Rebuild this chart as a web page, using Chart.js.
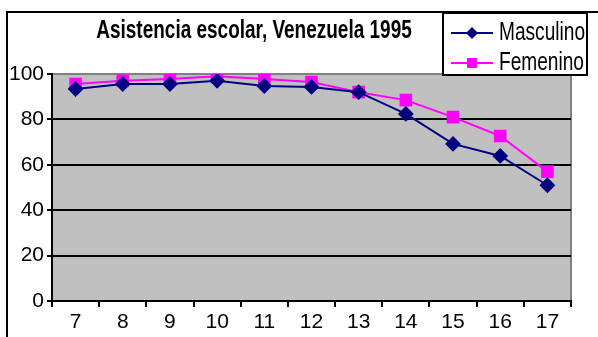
<!DOCTYPE html>
<html><head><meta charset="utf-8">
<script src="https://cdn.jsdelivr.net/npm/chart.js@4/dist/chart.umd.min.js"></script>
<style>html,body{margin:0;padding:0;background:#fff;}#wrap{width:598px;height:337px;position:relative;}</style>
</head><body><div id="wrap"><canvas id="c" width="598" height="337"></canvas></div>
<script>
const categories = ['7','8','9','10','11','12','13','14','15','16','17'];
const masculino = [93.4, 95.6, 95.6, 97.0, 94.7, 94.3, 92.0, 82.4, 69.2, 63.9, 51.0];
const femenino = [95.6, 97.0, 97.8, 99.0, 97.8, 96.5, 92.0, 88.5, 81.0, 72.7, 57.0];
const seriesNames = ['Masculino', 'Femenino'];
const titleText = 'Asistencia escolar, Venezuela 1995';
const FONT = "'Liberation Sans', Arial, sans-serif";

function narrowText(ctx, text, x, y, sx) {
  ctx.save();
  ctx.translate(x, y);
  ctx.scale(sx, 1);
  ctx.fillText(text, 0, 0);
  ctx.restore();
}

const deco = {
  id: 'deco',
  beforeDraw(chart) {
    const {ctx, chartArea: a} = chart;
    ctx.save();
    ctx.fillStyle = '#c0c0c0';
    ctx.fillRect(a.left, a.top, a.right - a.left, a.bottom - a.top);
    ctx.strokeStyle = '#808080';
    ctx.lineWidth = 2;
    ctx.beginPath();
    ctx.moveTo(a.left, a.top); ctx.lineTo(a.right, a.top); ctx.lineTo(a.right, a.bottom);
    ctx.stroke();
    ctx.strokeStyle = '#000';
    ctx.lineWidth = 2;
    ctx.strokeRect(7, 12, 700, 400);
    ctx.restore();
  },
  afterDraw(chart) {
    const ctx = chart.ctx;
    ctx.save();
    ctx.fillStyle = '#000';
    ctx.font = "bold 26px " + FONT;
    ctx.textAlign = 'center';
    ctx.textBaseline = 'middle';
    narrowText(ctx, titleText, 254, 31, 0.73);
    const lx = 443, ly = 13, lw = 144, lh = 62;
    ctx.fillStyle = '#fff';
    ctx.fillRect(lx, ly, lw, lh);
    ctx.strokeStyle = '#000';
    ctx.lineWidth = 2;
    ctx.strokeRect(lx, ly, lw, lh);
    const ds = chart.data.datasets;
    ds.forEach((d, i) => {
      const y = 33 + i * 30;
      ctx.strokeStyle = d.borderColor;
      ctx.lineWidth = 2;
      ctx.beginPath(); ctx.moveTo(451, y); ctx.lineTo(493, y); ctx.stroke();
      ctx.fillStyle = d.borderColor;
      if (d.pointStyle === 'rectRot') {
        ctx.beginPath(); ctx.moveTo(472, y - 6); ctx.lineTo(478, y); ctx.lineTo(472, y + 6); ctx.lineTo(466, y); ctx.closePath(); ctx.fill();
      } else {
        ctx.fillRect(467, y - 5, 10, 10);
      }
      ctx.fillStyle = '#000';
      ctx.font = "26px " + FONT;
      ctx.textAlign = 'left';
      ctx.textBaseline = 'middle';
      narrowText(ctx, d.label, 499, y, 0.735);
    });
    ctx.restore();
  }
};

new Chart(document.getElementById('c'), {
  type: 'line',
  data: {
    labels: categories,
    datasets: [
      {label: seriesNames[0], data: masculino, borderColor: '#000080', backgroundColor: '#000080', borderWidth: 2, pointStyle: 'rectRot', pointRadius: 6.5, pointHoverRadius: 6.5, tension: 0},
      {label: seriesNames[1], data: femenino, borderColor: '#ff00ff', backgroundColor: '#ff00ff', borderWidth: 2, pointStyle: 'rect', pointRadius: 7.5, pointHoverRadius: 7.5, tension: 0}
    ]
  },
  options: {
    responsive: false,
    animation: false,
    events: [],
    layout: {padding: {left: 0, top: 74, right: 27, bottom: 0}},
    plugins: {legend: {display: false}, title: {display: false}, tooltip: {enabled: false}},
    scales: {
      x: {
        offset: true,
        afterFit(s) { s.height = 36; },
        grid: {offset: true, drawOnChartArea: false, drawTicks: true, tickLength: 6, color: '#000', lineWidth: 2},
        border: {color: '#000', width: 2},
        ticks: {color: '#000', font: {family: FONT, size: 21}, padding: 3, maxRotation: 0}
      },
      y: {
        min: 0, max: 100,
        afterFit(s) { s.width = 52; },
        ticks: {stepSize: 20, color: '#000', font: {family: FONT, size: 21}, padding: 3},
        grid: {color: (c) => c.tick && c.tick.value === 100 ? '#808080' : '#000', lineWidth: 2, tickLength: 5, tickColor: '#000'},
        border: {color: '#000', width: 2}
      }
    }
  },
  plugins: [deco]
});
</script></body></html>
